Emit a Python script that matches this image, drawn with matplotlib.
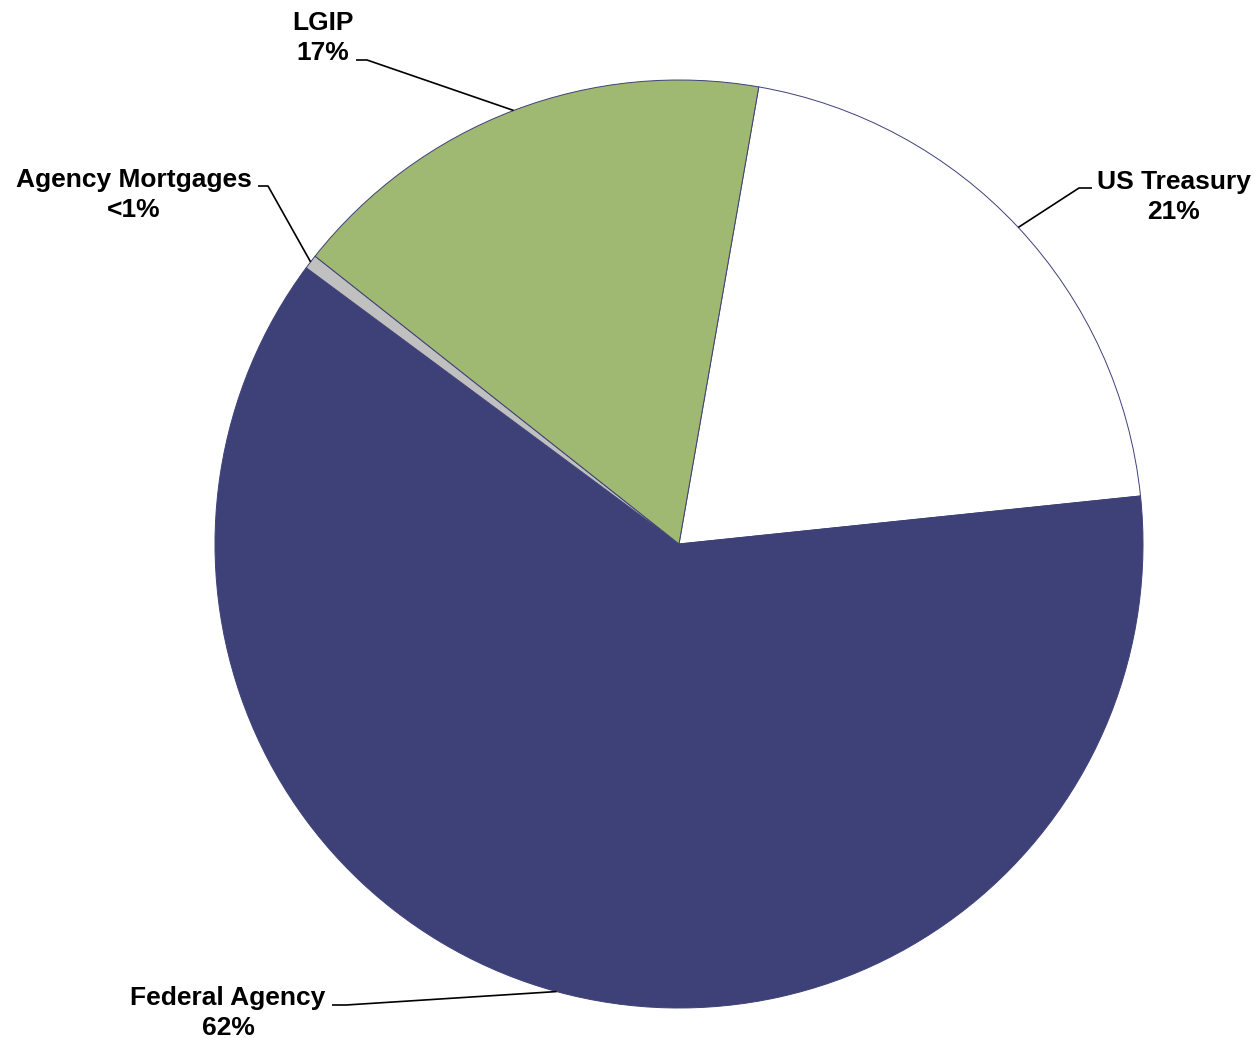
import numpy as np
import matplotlib.pyplot as plt

plt.rcParams['font.family'] = ['Liberation Sans', 'DejaVu Sans']

# portfolio mix, clockwise from the top
categories = ["US Treasury", "Federal Agency", "Agency Mortgages", "LGIP"]
shares = [20.6, 61.8, 0.5, 17.1]
colors = ["#FFFFFF", "#3E4177", "#C0C0C0", "#9FB872"]

def pct_label(v):
    return "<1%" if v < 1 else f"{round(v)}%"

W, H = 1260, 1041
fig = plt.figure(figsize=(W / 100, H / 100), dpi=100, facecolor='white')
ax = fig.add_axes([0, 0, 1, 1])

cx, cy, r = 679, 544, 464
# y axis is flipped below, so ccw in data is clockwise on screen
wedges, _ = ax.pie(shares, colors=colors, startangle=-80.1, counterclock=True,
                   center=(cx, cy), radius=r,
                   wedgeprops=dict(edgecolor='#3E4177', linewidth=0.7))

ax.set_xlim(0, W)
ax.set_ylim(H, 0)
ax.set_aspect('equal')
ax.axis('off')

# label text position (center x, first baseline) and leader stub (start x, end x, y)
label_pos = {
    "US Treasury": (1174, 189, 1092, 1079, 188),
    "Federal Agency": (228, 1005, 332, 346, 1005),
    "Agency Mortgages": (134, 187, 258, 268, 186),
    "LGIP": (323, 30, 356, 367, 60),
}

for w, name, v in zip(wedges, categories, shares):
    tx, ty, sx0, sx1, sy = label_pos[name]
    if name == "LGIP":
        ty0 = ty
    ax.text(tx, ty, name, ha='center', va='baseline', fontsize=19, fontweight='bold')
    ax.text(tx, ty + 30, pct_label(v), ha='center', va='baseline', fontsize=19, fontweight='bold')
    mid = np.deg2rad((w.theta1 + w.theta2) / 2)
    ex, ey = cx + r * np.cos(mid), cy + r * np.sin(mid)
    ax.plot([sx0, sx1, ex], [sy, sy, ey], color='black', lw=1.2, solid_capstyle='butt')

plt.savefig("out.png", dpi=100, facecolor='white')
plt.close()
